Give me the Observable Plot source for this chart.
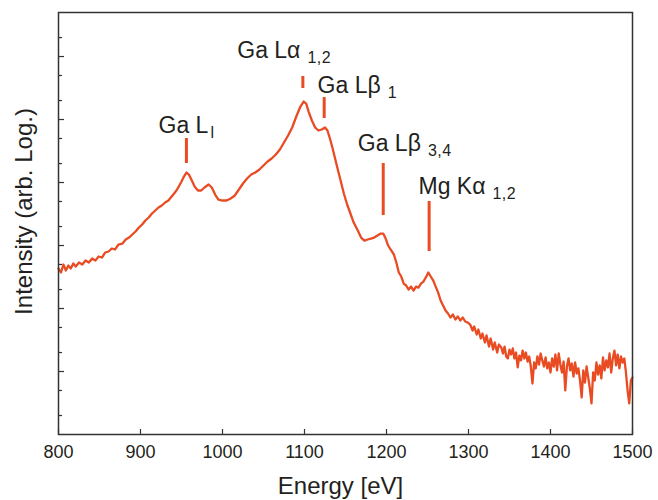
<!DOCTYPE html>
<html><head><meta charset="utf-8">
<script src="https://cdn.jsdelivr.net/npm/d3@7"></script>
<script src="https://cdn.jsdelivr.net/npm/@observablehq/plot@0.6"></script>
<style>body{margin:0;background:#fff;}</style>
</head><body><div id="chart"></div>
<script>
// Spectrum segments: energy [eV] and intensity (arb.)
const energyA = [800,803,806,809,812,815,818,821,825,829,833,837,841,845,849,853,857,861,865,869,873,878,882,886,890,894,898];
const intensityA = [432,373,500,401,482,432,518,464,537,500,578,537,622,578,669,645,775,804,897,865,1037,1076,1245,1339,1495,1668,1930];

const energyB = [902,906,910,914,918,922,926,930,934,938,942,946,950,953,956,959,962,966,970,974,978,983,987,991,995,1000,1005,1010,1015,1020,1025,1030,1035,1040,1045,1050,1055,1060,1065,1070,1075,1080,1085,1090,1095,1099,1102,1105,1109,1113,1117,1121,1125,1128,1131,1134,1137,1140,1144,1148,1152,1156,1160,1165,1169,1173,1177,1181,1185,1189,1193,1196,1199,1202];
const intensityB = [2154,2493,2783,3221,3594,4011,4315,4815,5181,5997,6941,8334,10370,12450,14410,13390,11160,8645,7468,7468,8334,9301,8334,6452,5373,5181,5181,5574,6220,7746,9647,11570,13390,14410,16080,18610,21540,24040,27830,33410,43150,55740,74680,111600,160800,193000,179400,133900,96470,74680,66920,69410,74680,66920,49950,35940,24930,17300,10760,6692,4476,3221,2317,1730,1339,1200,1245,1291,1339,1441,1550,1550,1291,1000];

const energyC = [1205,1209,1212,1215,1218,1221,1224,1227,1230,1233,1236,1239,1242,1245,1248,1251,1254,1257,1260,1263,1266,1269,1272,1275,1278,1281,1284,1287,1290,1293,1296,1299];
const intensityC = [865,720,537,373,322,249,232,200,223,193,223,215,249,268,311,373,322,278,223,179,134,112,93.0,83.3,72.0,80.4,66.9,74.7,64.5,72.0,62.2,60.0];

const energyD = [1302,1305,1307,1310,1312,1315,1317,1320,1322,1325,1327,1330,1332,1335,1337,1340,1342,1344,1346,1348,1350,1352,1354,1356,1358,1360,1362,1364,1366,1368,1370,1372,1374,1376,1378,1380,1382,1384,1386,1388,1390,1392,1394,1396,1398,1400,1402,1404,1406,1408,1410,1412,1414,1416,1418,1420,1422,1424,1426,1428,1430,1432,1434,1436,1438,1440,1442,1444,1446,1448,1450,1452,1454,1456,1458,1460,1462,1464,1466,1468,1470,1472,1474,1476,1478,1480,1482,1484,1486,1488,1490,1492,1494,1496,1498,1500];
const intensityD = [55.7,44.8,51.8,38.7,46.4,33.4,40.1,28.9,37.3,24.9,33.4,22.3,28.9,20.0,26.8,24.0,19.3,24.9,17.3,16.1,22.3,18.6,23.2,16.1,20.0,11.6,17.9,15.0,21.5,16.1,20.0,14.4,17.3,12.0,6.45,13.9,11.2,17.3,12.9,19.3,15.0,12.0,16.7,11.2,13.9,9.65,16.1,12.0,18.6,10.4,19.3,12.9,9.65,14.4,5.00,12.0,16.1,10.4,13.4,8.33,13.9,9.30,11.2,7.20,3.87,10.4,6.69,12.0,8.03,5.37,3.11,9.65,7.20,13.9,8.97,12.5,7.75,16.7,10.4,15.0,11.6,19.3,9.65,16.1,21.5,12.5,18.6,11.2,17.3,13.9,16.1,9.65,5.00,3.11,7.20,8.03];

// Peak annotations
const labelText = ["Ga L", "Ga L\u03b1", "Ga L\u03b2", "Ga L\u03b2", "Mg K\u03b1"];
const labelSub = ["l", "1,2", "1", "3,4", "1,2"];
const labelEnergy = [922, 1018, 1116, 1165, 1239];
const labelIntensity = [62200, 964700, 268300, 32210, 6692];
const markerEnergy = [956, 1098, 1124, 1196, 1252];
const markerTop = [49950, 481500, 223400, 20020, 4995];
const markerBottom = [20020, 310500, 103700, 2994, 803];

// Axis ticks
const xTicks = [800, 900, 1000, 1100, 1200, 1300, 1400, 1500];
const yMajorTicks = [10, 100, 1e3, 1e4, 1e5, 1e6];
const yMinorTicks = [2, 5, 20, 50, 200, 500, 2000, 5000, 2e4, 5e4, 2e5, 5e5, 2e6];

const energy = [...energyA, ...energyB, ...energyC, ...energyD];
const intensity = [...intensityA, ...intensityB, ...intensityC, ...intensityD];
const spectrum = energy.map((e, i) => ({energy: e, intensity: intensity[i]}));
const labels = labelText.map((t, i) => ({text: t, energy: labelEnergy[i], intensity: labelIntensity[i]}));
const markers = markerEnergy.map((e, i) => ({energy: e, top: markerTop[i], bottom: markerBottom[i]}));

const red = "#e94b23";
const ink = "#231f20";
const W = 658, H = 500, mL = 58, mR = 26, mT = 12, mB = 66;
const fw = W - mL - mR, fh = H - mT - mB;

const plot = Plot.plot({
  width: W, height: H,
  marginLeft: mL, marginRight: mR, marginTop: mT, marginBottom: mB,
  style: {fontFamily: "'Liberation Sans', Arial, sans-serif", background: "white", color: ink},
  x: {domain: [800, 1500]},
  y: {type: "log", domain: [1, 5e6], axis: null},
  marks: [
    Plot.ruleX(xTicks, {insetTop: fh - 5, stroke: "#333", strokeWidth: 1.2}),
    Plot.ruleY(yMajorTicks, {insetRight: fw - 6, stroke: "#333", strokeWidth: 1.2}),
    Plot.ruleY(yMinorTicks, {insetRight: fw - 4, stroke: "#333", strokeWidth: 1.2}),
    Plot.axisX({ticks: xTicks, tickSize: 0, tickPadding: 11, fontSize: 18, tickFormat: d => String(d), label: null}),
    Plot.line(spectrum, {x: "energy", y: "intensity", stroke: red, strokeWidth: 2.3, strokeLinejoin: "round"}),
    Plot.ruleX(markers, {x: "energy", y1: "bottom", y2: "top", stroke: red, strokeWidth: 3}),
    Plot.text(labels, {x: "energy", y: "intensity", text: "text", textAnchor: "start", lineAnchor: "bottom", fontSize: 23, fill: ink}),
    Plot.text(["Energy [eV]"], {frameAnchor: "bottom", textAnchor: "middle", dx: -5, dy: 59, lineAnchor: "bottom", fontSize: 24, fill: ink}),
    Plot.text(["Intensity (arb. Log.)"], {frameAnchor: "left", textAnchor: "middle", rotate: -90, dx: -27, dy: -12, lineAnchor: "bottom", fontSize: 24, fill: ink}),
    Plot.frame({stroke: "#333", strokeWidth: 1.5})
  ]
});

// Add subscripts to the peak labels, in data order
let j = 0;
plot.querySelectorAll("text").forEach((node) => {
  if (j < labelText.length && node.textContent === labelText[j]) {
    const t = document.createElementNS("http://www.w3.org/2000/svg", "tspan");
    t.setAttribute("dx", j === 0 ? 2 : 7);
    t.setAttribute("dy", 5);
    t.setAttribute("font-size", 16);
    t.setAttribute("letter-spacing", 0.5);
    t.textContent = labelSub[j];
    node.appendChild(t);
    j++;
  }
});

document.getElementById("chart").appendChild(plot);
</script>
</body></html>
